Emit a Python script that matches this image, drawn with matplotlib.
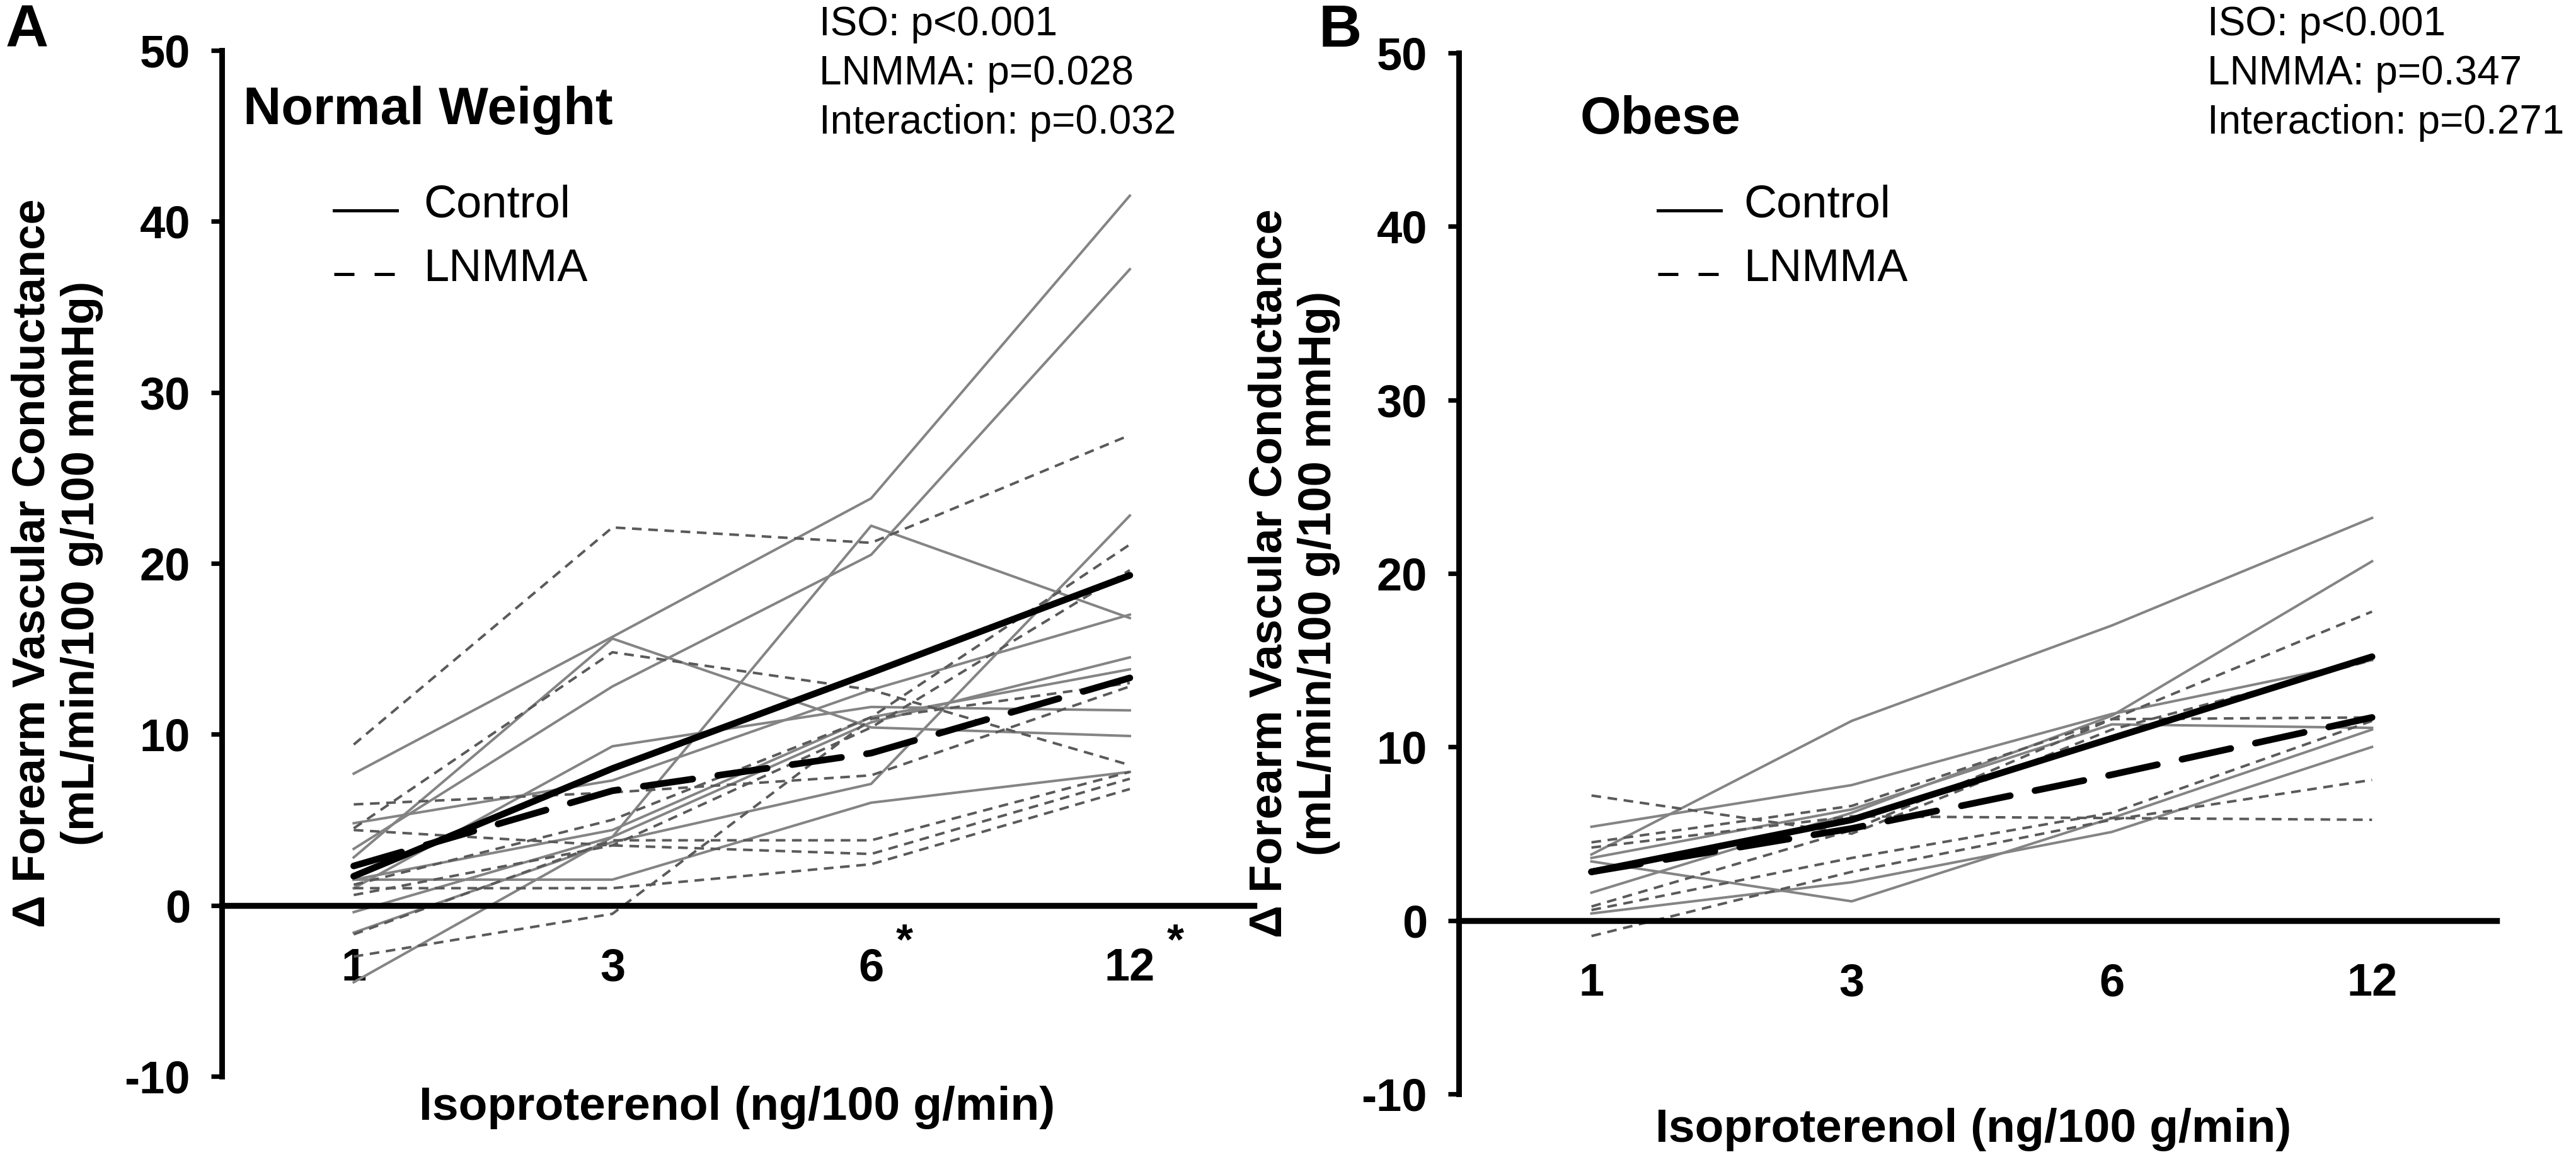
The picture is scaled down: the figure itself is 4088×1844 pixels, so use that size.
import matplotlib
matplotlib.use("Agg")
import matplotlib.pyplot as plt

plt.rcParams['font.family'] = ['Liberation Sans', 'DejaVu Sans']
plt.rcParams['axes.unicode_minus'] = False

# doses (ng/100 g/min)
doses = ['1', '3', '6', '12']
xpos = [0, 1, 2, 3]

# Normal weight, individual subjects
nw_control = [
    [7.7, 15.7, 23.8, 41.5],
    [3.3, 12.8, 20.5, 37.2],
    [-4.5, 4.0, 22.2, 16.8],
    [2.8, 15.6, 10.4, 9.9],
    [1.0, 9.3, 11.6, 11.4],
    [4.8, 7.3, 12.6, 17.0],
    [-0.4, 4.0, 10.7, 14.5],
    [-1.6, 3.7, 7.1, 22.8],
    [1.5, 1.5, 6.0, 7.8],
    [1.5, 4.4, 11.0, 13.8],
]
nw_lnmma = [
    [9.4, 22.1, 21.2, 27.5],
    [4.5, 14.8, 12.6, 8.2],
    [5.9, 6.6, 7.6, 12.8],
    [1.2, 5.0, 11.0, 21.1],
    [0.6, 3.5, 10.4, 19.6],
    [-1.7, 3.8, 3.8, 7.8],
    [-3.0, -0.5, 10.9, 13.0],
    [1.0, 1.0, 2.4, 6.8],
    [4.4, 3.5, 3.0, 7.4],
]
nw_control_mean = [1.7, 8.0, 13.6, 19.3]
nw_lnmma_mean = [2.3, 6.7, 8.9, 13.3]

# Obese, individual subjects
ob_control = [
    [3.8, 11.5, 17.0, 23.2],
    [1.6, 6.2, 11.8, 20.7],
    [5.4, 7.8, 11.9, 15.0],
    [3.4, 1.1, 5.9, 11.0],
    [0.4, 2.2, 5.1, 10.0],
    [3.6, 6.4, 11.3, 11.1],
]
ob_lnmma = [
    [7.2, 5.0, 11.0, 15.0],
    [4.5, 6.6, 11.6, 17.8],
    [4.2, 6.0, 5.9, 5.8],
    [0.8, 5.2, 11.6, 11.7],
    [0.6, 3.6, 6.2, 11.5],
    [-0.9, 2.8, 5.8, 8.1],
]
ob_control_mean = [2.8, 5.8, 10.5, 15.2]
ob_lnmma_mean = [2.8, 5.3, 8.4, 11.7]

stats_nw = ['ISO: p<0.001', 'LNMMA: p=0.028', 'Interaction: p=0.032']
stats_ob = ['ISO: p<0.001', 'LNMMA: p=0.347', 'Interaction: p=0.271']

fig = plt.figure(figsize=(20.44, 9.22), dpi=200)
axA = fig.add_axes([0.0861, 0.0738, 0.4007, 0.8828])
axB = fig.add_axes([0.5663, 0.0586, 0.4030, 0.8958])

grey = '#848484'
dgrey = '#5a5a5a'


def draw_panel(ax, ctrl, lnm, ctrl_mean, lnm_mean, stars):
    for row in ctrl:
        ax.plot(xpos, row, color=grey, lw=1.45, zorder=2)
    for row in lnm:
        ax.plot(xpos, row, color=dgrey, lw=1.45, linestyle=(0, (3.8, 2.6)), zorder=2)
    ax.plot(xpos, ctrl_mean, color='black', lw=3.8, zorder=4, solid_capstyle='round')
    ax.plot(xpos, lnm_mean, color='black', lw=3.8, linestyle=(0, (7.5, 3.8)),
            dash_capstyle='round', zorder=4)

    ax.set_xlim(-0.51, 3.48)
    ax.set_ylim(-10, 50)
    ax.set_yticks(range(-10, 51, 10))
    ax.spines['top'].set_visible(False)
    ax.spines['right'].set_visible(False)
    ax.spines['left'].set_linewidth(3.2)
    ax.spines['bottom'].set_position(('data', 0))
    ax.spines['bottom'].set_linewidth(3.4)
    ax.spines['bottom'].set_zorder(5)
    ax.tick_params(axis='y', length=6, width=2.6, labelsize=26, pad=12)
    ax.tick_params(axis='x', length=0, labelsize=26, pad=24)
    ax.set_xticks(xpos)
    ax.set_xticklabels(doses)
    for lab in ax.get_xticklabels() + ax.get_yticklabels():
        lab.set_fontweight('bold')
    for i, dx in stars:
        ax.annotate('*', xy=(xpos[i], 0), xytext=(dx, -21), textcoords='offset points',
                    fontsize=25, fontweight='bold', ha='center', va='center')

    ax.set_ylabel('\u0394 Forearm Vascular Conductance\n(mL/min/100 g/100 mmHg)',
                  fontsize=26, fontweight='bold', labelpad=12, linespacing=1.2)


draw_panel(axA, nw_control, nw_lnmma, nw_control_mean, nw_lnmma_mean,
           [(2, 19), (3, 26)])
draw_panel(axB, ob_control, ob_lnmma, ob_control_mean, ob_lnmma_mean, [])

# x labels, titles, legends, stats: placed in figure coordinates
fig.text(0.286, 0.047, 'Isoproterenol (ng/100 g/min)', fontsize=27,
         fontweight='bold', ha='center', va='center')
fig.text(0.766, 0.028, 'Isoproterenol (ng/100 g/min)', fontsize=27,
         fontweight='bold', ha='center', va='center')
fig.text(0.0945, 0.905, 'Normal Weight', fontsize=30, fontweight='bold',
         ha='left', va='center')
fig.text(0.6135, 0.897, 'Obese', fontsize=30, fontweight='bold',
         ha='left', va='center')

for x0, xt in [(0.1297, 0.1645), (0.6435, 0.677)]:
    fig.add_artist(plt.Line2D([x0, x0 + 0.0245], [0.819, 0.819], color='black', lw=1.8))
    fig.add_artist(plt.Line2D([x0, x0 + 0.0245], [0.764, 0.764], color='black', lw=1.8,
                              linestyle=(0, (6.4, 6.4))))
    fig.text(xt, 0.823, 'Control', fontsize=26, ha='left', va='center')
    fig.text(xt, 0.768, 'LNMMA', fontsize=26, ha='left', va='center')

for x0, lines in [(0.318, stats_nw), (0.857, stats_ob)]:
    for k, s in enumerate(lines):
        fig.text(x0, 0.979 - k * 0.0425, s, fontsize=23, ha='left', va='center')

fig.text(0.002, 0.973, 'A', fontsize=34, fontweight='bold', ha='left', va='center')
fig.text(0.512, 0.973, 'B', fontsize=34, fontweight='bold', ha='left', va='center')

fig.savefig('out.png', dpi=200, facecolor='white')
